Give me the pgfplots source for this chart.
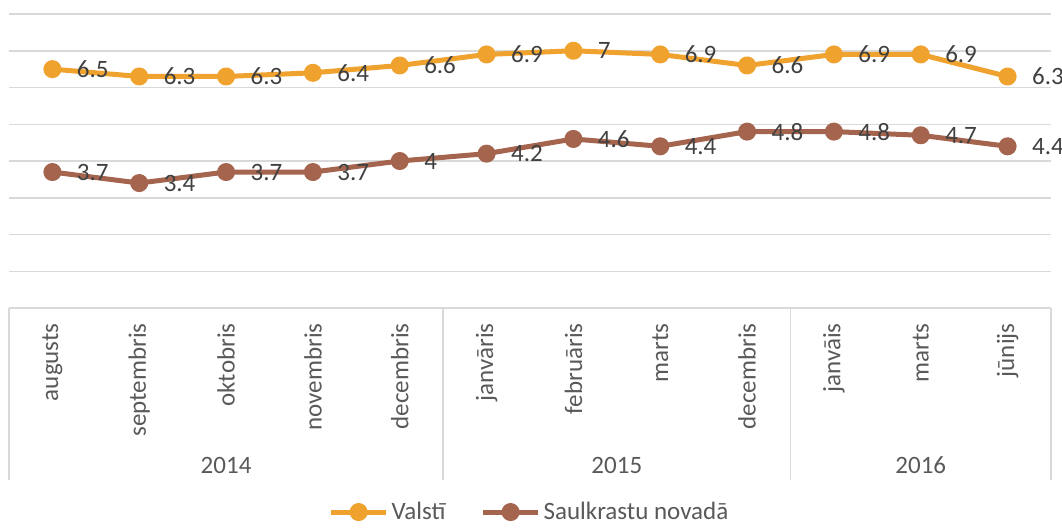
\documentclass[border=0pt]{standalone}
\usepackage{fontspec}
\setmainfont{Carlito}
\usepackage{pgfplots}
\pgfplotsset{compat=1.18}
\definecolor{valsti}{HTML}{F0A22E}
\definecolor{saul}{HTML}{A5644E}
\definecolor{gridc}{HTML}{D9D9D9}
\definecolor{lbl}{HTML}{404040}
\definecolor{axtxt}{HTML}{595959}
\newcommand\cf{\fontsize{12.5}{15}\selectfont}

\begin{document}
\begin{tikzpicture}
\begin{axis}[
  scale only axis, width=521pt, height=147pt,
  xmin=-0.5, xmax=11.5, ymin=0, ymax=8,
  clip=false,
  axis line style={draw=none},
  ytick={0,...,8}, yticklabels={}, ymajorgrids,
  grid style={gridc, line width=0.75pt},
  major tick length=0pt,
  xtick={0,...,11},
  xticklabels={augusts,septembris,oktobris,novembris,decembris,janvāris,februāris,marts,decembris,janvāis,marts,jūnijs},
  xticklabel style={rotate=90, anchor=east, inner sep=0pt, font=\cf, text=axtxt},
  xticklabel shift=7.5pt,
  /pgf/number format/assume math mode=true,
  nodes near coords,
  every node near coord/.append style={anchor=west, inner sep=0pt, xshift=11pt, font=\cf, text=lbl},
  legend columns=2,
  legend style={draw=none, at={(0.5,-0.694)}, anchor=center, font=\cf, text=axtxt,
    /tikz/every even column/.append style={column sep=16pt},
    nodes={inner sep=1.5pt}},
  legend image code/.code={\draw[mark repeat=2, mark phase=2, #1] plot coordinates {(0pt,0pt) (13.75pt,0pt) (27.5pt,0pt)};},
  every axis plot/.append style={line width=2.5pt, line join=round, mark=*, mark size=3.25pt},
]
\addplot[color=valsti, mark options={fill=valsti, draw=valsti, solid}]
  coordinates {(0,6.5) (1,6.3) (2,6.3) (3,6.4) (4,6.6) (5,6.9) (6,7) (7,6.9) (8,6.6) (9,6.9) (10,6.9) (11,6.3)};
\addplot[color=saul, mark options={fill=saul, draw=saul, solid}]
  coordinates {(0,3.7) (1,3.4) (2,3.7) (3,3.7) (4,4) (5,4.2) (6,4.6) (7,4.4) (8,4.8) (9,4.8) (10,4.7) (11,4.4)};
\legend{Valstī, Saulkrastu novadā}
% two-level category axis
\draw[gridc, line width=0.75pt] (axis cs:-0.5,0) -- ++(0pt,-86pt);
\draw[gridc, line width=0.75pt] (axis cs:4.5,0) -- ++(0pt,-86pt);
\draw[gridc, line width=0.75pt] (axis cs:8.5,0) -- ++(0pt,-86pt);
\draw[gridc, line width=0.75pt] (axis cs:11.5,0) -- ++(0pt,-86pt);
\node[font=\cf, text=axtxt] at (axis cs:2,0) [yshift=-78.5pt] {2014};
\node[font=\cf, text=axtxt] at (axis cs:6.5,0) [yshift=-78.5pt] {2015};
\node[font=\cf, text=axtxt] at (axis cs:10,0) [yshift=-78.5pt] {2016};
\end{axis}
\pgfresetboundingbox
\path[use as bounding box] (-4.5pt,-109.5pt) rectangle (526.5pt,154pt);
\end{tikzpicture}
\end{document}
